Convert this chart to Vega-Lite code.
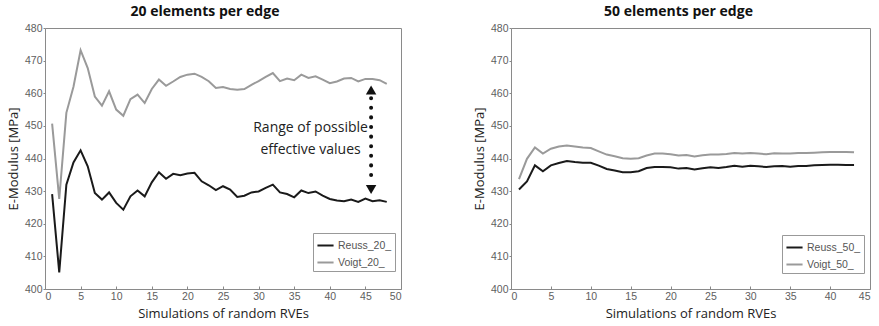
{
  "$schema": "https://vega.github.io/schema/vega-lite/v6.json",
  "background": "white",
  "padding": {"left": 6, "top": 4, "right": 2, "bottom": 2},
  "config": {
    "view": {"stroke": "#8a8a8a", "strokeWidth": 1},
    "axis": {"labelFont": "Liberation Sans", "labelFontSize": 10.5, "labelColor": "#5e5e5e", "labelOverlap": false, "titleFont": "Open Sans", "titleFontSize": 13, "titleFontWeight": "normal", "titleColor": "#222", "grid": false, "domain": false, "tickColor": "#888"},
    "axisX": {"tickSize": -3, "labelPadding": 5, "titlePadding": 6, "values": [0,5,10,15,20,25,30,35,40,45,50]},
    "axisY": {"tickSize": 2, "labelPadding": 1, "titlePadding": 4, "values": [400,410,420,430,440,450,460,470,480]},
    "title": {"font": "Open Sans", "fontSize": 14, "fontWeight": "bold", "color": "#111"},
    "legend": {"labelFont": "Liberation Sans", "labelFontSize": 10.5, "labelColor": "#555"}
  },
  "datasets": {
    "d20": [
      {"x":1,"y":450.7,"series":"Voigt_20_"},{"x":2,"y":427.6,"series":"Voigt_20_"},{"x":3,"y":454,"series":"Voigt_20_"},{"x":4,"y":462,"series":"Voigt_20_"},{"x":5,"y":473.2,"series":"Voigt_20_"},{"x":6,"y":467.7,"series":"Voigt_20_"},{"x":7,"y":459,"series":"Voigt_20_"},{"x":8,"y":456.2,"series":"Voigt_20_"},{"x":9,"y":460.6,"series":"Voigt_20_"},{"x":10,"y":455,"series":"Voigt_20_"},{"x":11,"y":453.1,"series":"Voigt_20_"},{"x":12,"y":458.2,"series":"Voigt_20_"},{"x":13,"y":459.6,"series":"Voigt_20_"},{"x":14,"y":457,"series":"Voigt_20_"},{"x":15,"y":461.3,"series":"Voigt_20_"},{"x":16,"y":464.2,"series":"Voigt_20_"},{"x":17,"y":462.3,"series":"Voigt_20_"},{"x":18,"y":463.6,"series":"Voigt_20_"},{"x":19,"y":465,"series":"Voigt_20_"},{"x":20,"y":465.7,"series":"Voigt_20_"},{"x":21,"y":466,"series":"Voigt_20_"},{"x":22,"y":465,"series":"Voigt_20_"},{"x":23,"y":463.7,"series":"Voigt_20_"},{"x":24,"y":461.6,"series":"Voigt_20_"},{"x":25,"y":461.9,"series":"Voigt_20_"},{"x":26,"y":461.3,"series":"Voigt_20_"},{"x":27,"y":461.1,"series":"Voigt_20_"},{"x":28,"y":461.3,"series":"Voigt_20_"},{"x":29,"y":462.6,"series":"Voigt_20_"},{"x":30,"y":463.7,"series":"Voigt_20_"},{"x":31,"y":465,"series":"Voigt_20_"},{"x":32,"y":466.2,"series":"Voigt_20_"},{"x":33,"y":463.7,"series":"Voigt_20_"},{"x":34,"y":464.5,"series":"Voigt_20_"},{"x":35,"y":464,"series":"Voigt_20_"},{"x":36,"y":465.7,"series":"Voigt_20_"},{"x":37,"y":464.7,"series":"Voigt_20_"},{"x":38,"y":465.2,"series":"Voigt_20_"},{"x":39,"y":464.2,"series":"Voigt_20_"},{"x":40,"y":463.1,"series":"Voigt_20_"},{"x":41,"y":463.6,"series":"Voigt_20_"},{"x":42,"y":464.5,"series":"Voigt_20_"},{"x":43,"y":464.7,"series":"Voigt_20_"},{"x":44,"y":463.6,"series":"Voigt_20_"},{"x":45,"y":464.4,"series":"Voigt_20_"},{"x":46,"y":464.4,"series":"Voigt_20_"},{"x":47,"y":464,"series":"Voigt_20_"},{"x":48,"y":462.9,"series":"Voigt_20_"},
      {"x":1,"y":429.1,"series":"Reuss_20_"},{"x":2,"y":405.1,"series":"Reuss_20_"},{"x":3,"y":432,"series":"Reuss_20_"},{"x":4,"y":438.8,"series":"Reuss_20_"},{"x":5,"y":442.5,"series":"Reuss_20_"},{"x":6,"y":437.6,"series":"Reuss_20_"},{"x":7,"y":429.4,"series":"Reuss_20_"},{"x":8,"y":427.4,"series":"Reuss_20_"},{"x":9,"y":429.6,"series":"Reuss_20_"},{"x":10,"y":426.4,"series":"Reuss_20_"},{"x":11,"y":424.3,"series":"Reuss_20_"},{"x":12,"y":428.4,"series":"Reuss_20_"},{"x":13,"y":430.2,"series":"Reuss_20_"},{"x":14,"y":428.4,"series":"Reuss_20_"},{"x":15,"y":432.7,"series":"Reuss_20_"},{"x":16,"y":435.8,"series":"Reuss_20_"},{"x":17,"y":433.8,"series":"Reuss_20_"},{"x":18,"y":435.3,"series":"Reuss_20_"},{"x":19,"y":434.9,"series":"Reuss_20_"},{"x":20,"y":435.4,"series":"Reuss_20_"},{"x":21,"y":435.6,"series":"Reuss_20_"},{"x":22,"y":433,"series":"Reuss_20_"},{"x":23,"y":431.8,"series":"Reuss_20_"},{"x":24,"y":430.3,"series":"Reuss_20_"},{"x":25,"y":431.5,"series":"Reuss_20_"},{"x":26,"y":430.5,"series":"Reuss_20_"},{"x":27,"y":428.2,"series":"Reuss_20_"},{"x":28,"y":428.6,"series":"Reuss_20_"},{"x":29,"y":429.6,"series":"Reuss_20_"},{"x":30,"y":429.9,"series":"Reuss_20_"},{"x":31,"y":431,"series":"Reuss_20_"},{"x":32,"y":432,"series":"Reuss_20_"},{"x":33,"y":429.6,"series":"Reuss_20_"},{"x":34,"y":429.1,"series":"Reuss_20_"},{"x":35,"y":428.1,"series":"Reuss_20_"},{"x":36,"y":430.2,"series":"Reuss_20_"},{"x":37,"y":429.4,"series":"Reuss_20_"},{"x":38,"y":429.9,"series":"Reuss_20_"},{"x":39,"y":428.6,"series":"Reuss_20_"},{"x":40,"y":427.6,"series":"Reuss_20_"},{"x":41,"y":427.1,"series":"Reuss_20_"},{"x":42,"y":426.9,"series":"Reuss_20_"},{"x":43,"y":427.4,"series":"Reuss_20_"},{"x":44,"y":426.7,"series":"Reuss_20_"},{"x":45,"y":427.7,"series":"Reuss_20_"},{"x":46,"y":426.9,"series":"Reuss_20_"},{"x":47,"y":427.2,"series":"Reuss_20_"},{"x":48,"y":426.7,"series":"Reuss_20_"}
    ],
    "d50": [
      {"x":1,"y":433.7,"series":"Voigt_50_"},{"x":2,"y":439.9,"series":"Voigt_50_"},{"x":3,"y":443.4,"series":"Voigt_50_"},{"x":4,"y":441.5,"series":"Voigt_50_"},{"x":5,"y":443,"series":"Voigt_50_"},{"x":6,"y":443.7,"series":"Voigt_50_"},{"x":7,"y":444,"series":"Voigt_50_"},{"x":8,"y":443.7,"series":"Voigt_50_"},{"x":9,"y":443.4,"series":"Voigt_50_"},{"x":10,"y":443.2,"series":"Voigt_50_"},{"x":11,"y":442.2,"series":"Voigt_50_"},{"x":12,"y":441.2,"series":"Voigt_50_"},{"x":13,"y":440.7,"series":"Voigt_50_"},{"x":14,"y":440.1,"series":"Voigt_50_"},{"x":15,"y":439.9,"series":"Voigt_50_"},{"x":16,"y":440.1,"series":"Voigt_50_"},{"x":17,"y":440.9,"series":"Voigt_50_"},{"x":18,"y":441.5,"series":"Voigt_50_"},{"x":19,"y":441.5,"series":"Voigt_50_"},{"x":20,"y":441.3,"series":"Voigt_50_"},{"x":21,"y":440.9,"series":"Voigt_50_"},{"x":22,"y":441.1,"series":"Voigt_50_"},{"x":23,"y":440.6,"series":"Voigt_50_"},{"x":24,"y":441,"series":"Voigt_50_"},{"x":25,"y":441.2,"series":"Voigt_50_"},{"x":26,"y":441.2,"series":"Voigt_50_"},{"x":27,"y":441.4,"series":"Voigt_50_"},{"x":28,"y":441.7,"series":"Voigt_50_"},{"x":29,"y":441.5,"series":"Voigt_50_"},{"x":30,"y":441.7,"series":"Voigt_50_"},{"x":31,"y":441.5,"series":"Voigt_50_"},{"x":32,"y":441.3,"series":"Voigt_50_"},{"x":33,"y":441.6,"series":"Voigt_50_"},{"x":34,"y":441.5,"series":"Voigt_50_"},{"x":35,"y":441.5,"series":"Voigt_50_"},{"x":36,"y":441.7,"series":"Voigt_50_"},{"x":37,"y":441.7,"series":"Voigt_50_"},{"x":38,"y":441.8,"series":"Voigt_50_"},{"x":39,"y":441.9,"series":"Voigt_50_"},{"x":40,"y":442,"series":"Voigt_50_"},{"x":41,"y":442,"series":"Voigt_50_"},{"x":42,"y":442,"series":"Voigt_50_"},{"x":43,"y":441.9,"series":"Voigt_50_"},
      {"x":1,"y":430.5,"series":"Reuss_50_"},{"x":2,"y":433,"series":"Reuss_50_"},{"x":3,"y":437.9,"series":"Reuss_50_"},{"x":4,"y":436.1,"series":"Reuss_50_"},{"x":5,"y":437.9,"series":"Reuss_50_"},{"x":6,"y":438.6,"series":"Reuss_50_"},{"x":7,"y":439.2,"series":"Reuss_50_"},{"x":8,"y":438.9,"series":"Reuss_50_"},{"x":9,"y":438.7,"series":"Reuss_50_"},{"x":10,"y":438.7,"series":"Reuss_50_"},{"x":11,"y":437.8,"series":"Reuss_50_"},{"x":12,"y":436.8,"series":"Reuss_50_"},{"x":13,"y":436.3,"series":"Reuss_50_"},{"x":14,"y":435.8,"series":"Reuss_50_"},{"x":15,"y":435.8,"series":"Reuss_50_"},{"x":16,"y":436.1,"series":"Reuss_50_"},{"x":17,"y":437.1,"series":"Reuss_50_"},{"x":18,"y":437.4,"series":"Reuss_50_"},{"x":19,"y":437.4,"series":"Reuss_50_"},{"x":20,"y":437.3,"series":"Reuss_50_"},{"x":21,"y":436.9,"series":"Reuss_50_"},{"x":22,"y":437.1,"series":"Reuss_50_"},{"x":23,"y":436.6,"series":"Reuss_50_"},{"x":24,"y":437,"series":"Reuss_50_"},{"x":25,"y":437.3,"series":"Reuss_50_"},{"x":26,"y":437.1,"series":"Reuss_50_"},{"x":27,"y":437.4,"series":"Reuss_50_"},{"x":28,"y":437.8,"series":"Reuss_50_"},{"x":29,"y":437.5,"series":"Reuss_50_"},{"x":30,"y":437.8,"series":"Reuss_50_"},{"x":31,"y":437.6,"series":"Reuss_50_"},{"x":32,"y":437.4,"series":"Reuss_50_"},{"x":33,"y":437.6,"series":"Reuss_50_"},{"x":34,"y":437.7,"series":"Reuss_50_"},{"x":35,"y":437.5,"series":"Reuss_50_"},{"x":36,"y":437.7,"series":"Reuss_50_"},{"x":37,"y":437.7,"series":"Reuss_50_"},{"x":38,"y":437.9,"series":"Reuss_50_"},{"x":39,"y":438,"series":"Reuss_50_"},{"x":40,"y":438.1,"series":"Reuss_50_"},{"x":41,"y":438.1,"series":"Reuss_50_"},{"x":42,"y":438,"series":"Reuss_50_"},{"x":43,"y":438,"series":"Reuss_50_"}
    ],
    "note": [
      {"x":37.3,"y":449.3,"text":"Range of possible"},
      {"x":37.3,"y":442.6,"text":"effective values"}
    ],
    "arrow": [
      {"x":45.8,"y1":458.5,"y2":433}
    ],
    "heads": [
      {"x":45.8,"y":461,"shape":"triangle-up"},
      {"x":45.8,"y":430.5,"shape":"triangle-down"}
    ]
  },
  "hconcat": [
    {
      "width": 356,
      "height": 261,
      "title": {"text": "20 elements per edge", "dx": -18, "offset": 4},
      "layer": [
        {
          "data": {"name": "d20"},
          "mark": {"type": "line", "strokeWidth": 2},
          "encoding": {
            "x": {"field": "x", "type": "quantitative", "title": "Simulations of random RVEs", "scale": {"domain": [0, 50], "nice": false}},
            "y": {"field": "y", "type": "quantitative", "title": "E-Modulus [MPa]", "scale": {"domain": [400, 480], "nice": false, "zero": false}},
            "color": {"field": "series", "type": "nominal", "scale": {"domain": ["Reuss_20_", "Voigt_20_"], "range": ["#1a1a1a", "#9a9a9a"]}, "legend": {"title": null, "orient": "none", "legendX": 268, "legendY": 205, "symbolType": "stroke", "symbolSize": 260, "symbolStrokeWidth": 2, "strokeColor": "#999", "fillColor": "white", "padding": 3, "rowPadding": 2, "labelOffset": 3}}
          }
        },
        {
          "data": {"name": "arrow"},
          "mark": {"type": "rule", "color": "#111", "strokeWidth": 4, "strokeDash": [0.1, 9.5], "strokeCap": "round"},
          "encoding": {
            "x": {"field": "x", "type": "quantitative", "title": "Simulations of random RVEs"},
            "y": {"field": "y1", "type": "quantitative", "title": "E-Modulus [MPa]"},
            "y2": {"field": "y2"}
          }
        },
        {
          "data": {"name": "heads"},
          "mark": {"type": "point", "filled": true, "color": "#111", "opacity": 1, "size": 110},
          "encoding": {
            "x": {"field": "x", "type": "quantitative", "title": "Simulations of random RVEs"},
            "y": {"field": "y", "type": "quantitative", "title": "E-Modulus [MPa]"},
            "shape": {"field": "shape", "type": "nominal", "scale": null}
          }
        },
        {
          "data": {"name": "note"},
          "mark": {"type": "text", "font": "Open Sans", "fontSize": 14, "color": "#222", "align": "center", "baseline": "middle"},
          "encoding": {
            "x": {"field": "x", "type": "quantitative", "title": "Simulations of random RVEs"},
            "y": {"field": "y", "type": "quantitative", "title": "E-Modulus [MPa]"},
            "text": {"field": "text"}
          }
        }
      ]
    },
    {
      "width": 359,
      "height": 261,
      "title": {"text": "50 elements per edge", "dx": -12, "offset": 4},
      "layer": [
        {
          "data": {"name": "d50"},
          "mark": {"type": "line", "strokeWidth": 2},
          "encoding": {
            "x": {"field": "x", "type": "quantitative", "title": "Simulations of random RVEs", "scale": {"domain": [0, 45], "nice": false}, "axis": {"values": [0,5,10,15,20,25,30,35,40,45]}},
            "y": {"field": "y", "type": "quantitative", "title": "E-Modulus [MPa]", "scale": {"domain": [400, 480], "nice": false, "zero": false}},
            "color": {"field": "series", "type": "nominal", "scale": {"domain": ["Reuss_50_", "Voigt_50_"], "range": ["#1a1a1a", "#9a9a9a"]}, "legend": {"title": null, "orient": "none", "legendX": 271, "legendY": 207, "symbolType": "stroke", "symbolSize": 260, "symbolStrokeWidth": 2, "strokeColor": "#999", "fillColor": "white", "padding": 3, "rowPadding": 2, "labelOffset": 3}}
          }
        }
      ]
    }
  ],
  "spacing": 70,
  "resolve": {"scale": {"color": "independent", "x": "independent"}, "legend": {"color": "independent"}}
}
